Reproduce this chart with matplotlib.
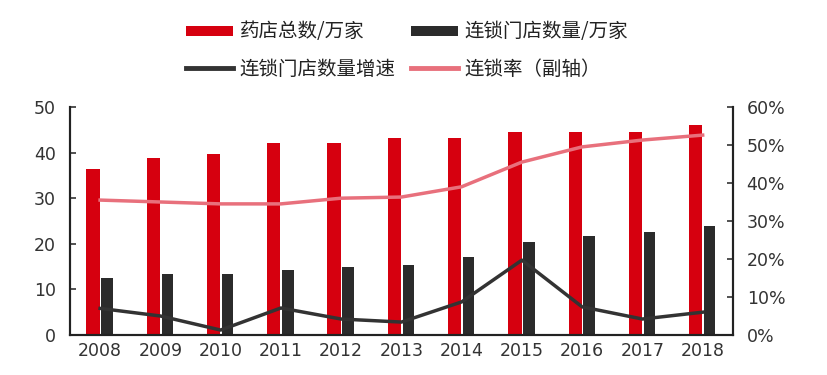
import matplotlib.pyplot as plt
import numpy as np

plt.rcParams['font.family'] = ['Noto Sans CJK SC', 'DejaVu Sans']

# 数据
years = ['2008', '2009', '2010', '2011', '2012', '2013', '2014', '2015', '2016', '2017', '2018']
total_stores = [36.5, 38.8, 39.6, 42.0, 42.0, 43.3, 43.3, 44.5, 44.5, 44.5, 46.0]
chain_stores = [12.5, 13.3, 13.3, 14.2, 15.0, 15.4, 17.1, 20.3, 21.8, 22.6, 23.9]
chain_growth = [7.0, 5.0, 1.3, 7.1, 4.2, 3.4, 8.7, 19.7, 7.4, 4.2, 6.0]   # %
chain_rate = [35.5, 35.0, 34.5, 34.5, 36.0, 36.3, 39.0, 45.5, 49.5, 51.3, 52.6]  # %

red = '#d6000f'
dark = '#2b2b2b'
pink = '#e8707c'

fig = plt.figure(figsize=(8.28, 3.75), dpi=100)
ax = fig.add_axes([0.0845, 0.1067, 0.8005, 0.608])
ax2 = ax.twinx()

x = np.arange(len(years))
b1 = ax.bar(x - 0.116, total_stores, 0.22, color=red, label='药店总数/万家', zorder=2)
b2 = ax.bar(x + 0.116, chain_stores, 0.19, color=dark, label='连锁门店数量/万家', zorder=2)

l1, = ax2.plot(x, chain_growth, color='#333333', lw=2.5, label='连锁门店数量增速', zorder=3)
l2, = ax2.plot(x, chain_rate, color=pink, lw=2.5, label='连锁率（副轴）', zorder=3)

ax.set_xlim(-0.5, 10.5)
ax.set_ylim(0, 50)
ax2.set_ylim(0, 60)
ax.set_yticks(range(0, 51, 10))
ax2.set_yticks(range(0, 61, 10))
ax2.set_yticklabels([f'{v}%' for v in range(0, 61, 10)])
ax.set_xticks(x)
ax.set_xticklabels(years)

for a in (ax, ax2):
    a.spines['top'].set_visible(False)
    a.tick_params(axis='y', direction='in', length=4, width=1.2, labelsize=12.5,
                  colors='#333333', pad=10)
    a.tick_params(axis='x', length=0, labelsize=12.5, colors='#333333', pad=5)
    for s in ('left', 'right', 'bottom'):
        a.spines[s].set_color('#222222')
        a.spines[s].set_linewidth(1.5)
    for t in a.get_xticklabels() + a.get_yticklabels():
        t.set_family('DejaVu Sans')

# 图例按行排列
handles = [b1, l1, b2, l2]
leg = fig.legend(handles, [h.get_label() for h in handles], ncol=2, loc='center',
                 bbox_to_anchor=(0.492, 0.866), frameon=False, fontsize=14,
                 handlelength=2.4, columnspacing=0.8, handletextpad=0.35,
                 labelspacing=0.85)
for t in leg.get_texts():
    t.set_color('#222222')
for h in (leg.legend_handles[0], leg.legend_handles[2]):
    h.set_height(7)
    h.set_y(1)
for h in (leg.legend_handles[1], leg.legend_handles[3]):
    h.set_linewidth(3.5)

fig.savefig('out.png', dpi=100)
